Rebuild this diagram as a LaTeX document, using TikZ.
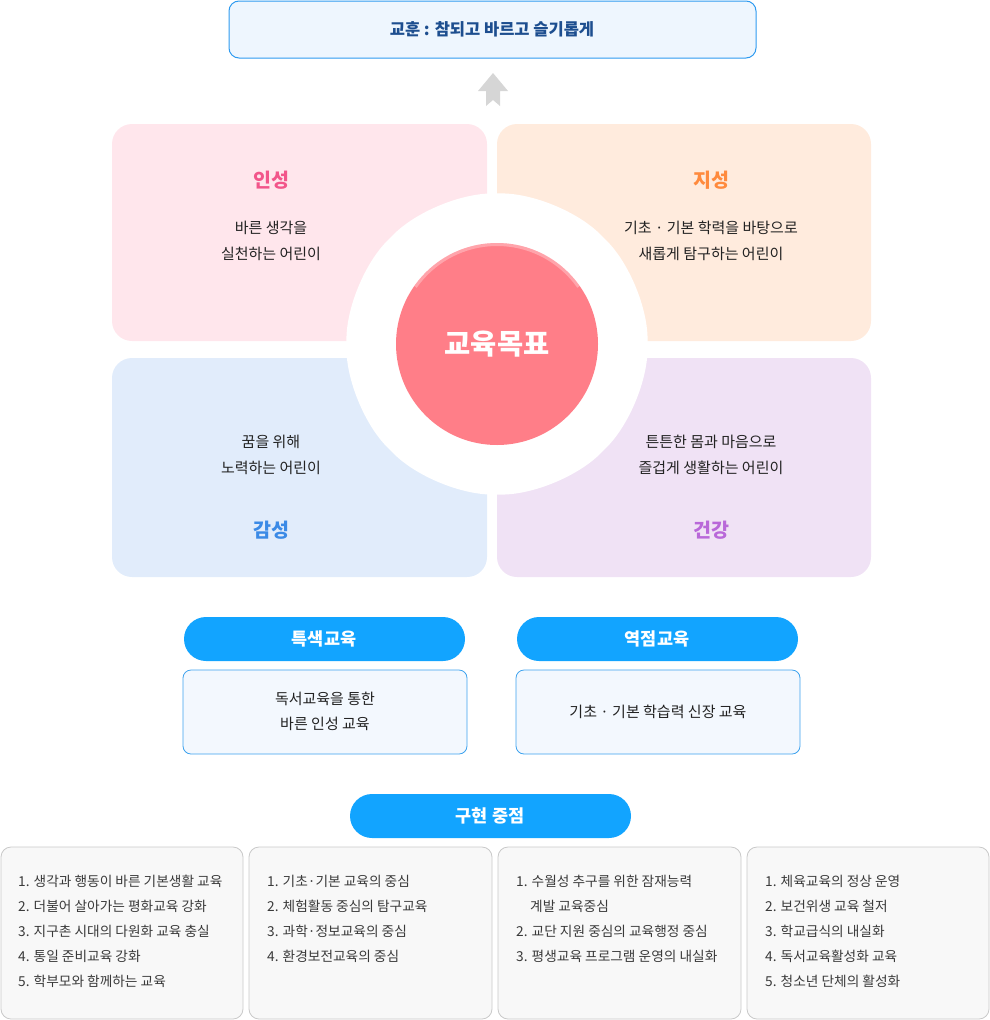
\documentclass[tikz,border=0pt]{standalone}
\usepackage{fontspec}
\setmainfont{Noto Sans CJK KR}
\definecolor{pinkbg}{HTML}{FFE6EC}
\definecolor{orangebg}{HTML}{FFEBDD}
\definecolor{bluebg}{HTML}{E1ECFB}
\definecolor{purplebg}{HTML}{F0E2F5}
\definecolor{pinkt}{HTML}{F2558A}
\definecolor{oranget}{HTML}{FF8A3D}
\definecolor{bluet}{HTML}{3B8AE6}
\definecolor{purplet}{HTML}{B968D9}
\definecolor{circ}{HTML}{FF7E88}
\definecolor{bannerborder}{HTML}{2E9BF0}
\definecolor{bannerfill}{HTML}{EEF6FE}
\definecolor{bannertext}{HTML}{1D4E8F}
\definecolor{pill}{HTML}{12A4FF}
\definecolor{boxborder}{HTML}{3DA2EE}
\definecolor{boxfill}{HTML}{F3F8FE}
\definecolor{listfill}{HTML}{F8F8F8}
\definecolor{listborder}{HTML}{C9C9C9}
\definecolor{bodytext}{HTML}{222222}
\definecolor{listtext}{HTML}{3A3A3A}
\definecolor{arrowgray}{HTML}{D6D6D6}
\newcommand\myfs[2]{\fontsize{#1}{#2}\selectfont}
\tikzset{
  quad/.style={rounded corners=20pt},
  qtitle/.style={font=\myfs{19.5}{22}\bfseries, inner sep=0pt},
  qbody/.style={font=\myfs{15}{26}, text=bodytext, align=center, inner sep=0pt},
  pillbox/.style={fill=pill, rounded corners=22pt},
  pilltext/.style={font=\myfs{17.5}{20}\bfseries, text=white, inner sep=0pt},
  bluebox/.style={fill=boxfill, draw=boxborder, line width=0.8pt, rounded corners=8pt},
  listbox/.style={fill=listfill, draw=listborder, line width=0.8pt, rounded corners=10pt},
  listline/.style={font=\myfs{13.7}{16}, text=listtext, anchor=west, inner sep=0pt},
}
\begin{document}
\begin{tikzpicture}[x=1pt,y=-1pt]
\useasboundingbox (0,0) rectangle (990,1020);
% banner
\draw[fill=bannerfill, draw=bannerborder, line width=1pt, rounded corners=10pt] (229,1) rectangle (756,58);
\node[font=\myfs{16.5}{18}\bfseries, text=bannertext, inner sep=0pt] (motto) at (492,29) {교훈 : 참되고 바르고 슬기롭게};
% arrow
\fill[arrowgray] (493,73) -- (508,91) -- (500,91) -- (500,106) -- (493,100) -- (486,106) -- (486,91) -- (478,91) -- cycle;
% quadrants
\fill[pinkbg, quad] (112,124) rectangle (487,341);
\fill[orangebg, quad] (497,124) rectangle (871,341);
\fill[bluebg, quad] (112,358) rectangle (487,577);
\fill[purplebg, quad] (497,358) rectangle (871,577);
% white blob
\fill[white, rounded corners=58pt]
  (497,344) +(22.5:163) -- +(67.5:163) -- +(112.5:163) -- +(157.5:163) -- +(202.5:163) -- +(247.5:163) -- +(292.5:163) -- +(337.5:163) -- cycle;
% center circle
\fill[circ] (497,344) circle (101);
\draw[white, opacity=0.3, line width=3pt] (497,344) ++(-35:99.5) arc[start angle=-35, end angle=-145, radius=99.5];
\node[font=\myfs{28.5}{30}\bfseries, text=white, inner sep=0pt] (goal) at (497,344) {교육목표};
% quadrant texts
\node[qtitle, text=pinkt] (t1) at (271,180) {인성};
\node[qbody] (b1) at (271,241) {바른 생각을\\실천하는 어린이};
\node[qtitle, text=oranget] (t2) at (711,180) {지성};
\node[qbody] (b2) at (711,241) {기초 · 기본 학력을 바탕으로\\새롭게 탐구하는 어린이};
\node[qbody] (b3) at (271,455) {꿈을 위해\\노력하는 어린이};
\node[qtitle, text=bluet] (t3) at (271,530) {감성};
\node[qbody] (b4) at (711,455) {튼튼한 몸과 마음으로\\즐겁게 생활하는 어린이};
\node[qtitle, text=purplet] (t4) at (711,530) {건강};
% pills and boxes
\fill[pillbox] (184,617) rectangle (465,661);
\node[pilltext] (p1) at (324,639) {특색교육};
\fill[pillbox] (517,617) rectangle (798,661);
\node[pilltext] (p2) at (657,639) {역점교육};
\draw[bluebox] (183,670) rectangle (467,754);
\node[qbody, font=\myfs{15}{25}] (bx1) at (325,711.5) {독서교육을 통한\\바른 인성 교육};
\draw[bluebox] (516,670) rectangle (800,754);
\node[qbody] (bx2) at (658,712) {기초 · 기본 학습력 신장 교육};
\fill[pillbox] (350,794) rectangle (631,838);
\node[pilltext] (p3) at (490,816) {구현 중점};
% list boxes
\draw[listbox] (1,847) rectangle (243,1019);
\draw[listbox] (249,847) rectangle (492,1019);
\draw[listbox] (498,847) rectangle (741,1019);
\draw[listbox] (747,847) rectangle (989,1019);
\foreach \t [count=\i] in {1. 생각과 행동이 바른 기본생활 교육, 2. 더불어 살아가는 평화교육 강화, 3. 지구촌 시대의 다원화 교육 충실, 4. 통일 준비교육 강화, 5. 학부모와 함께하는 교육}
  \node[listline] (la\i) at (18,856+25*\i) {\t};
\foreach \t [count=\i] in {1. 기초·기본 교육의 중심, 2. 체험활동 중심의 탐구교육, 3. 과학·정보교육의 중심, 4. 환경보전교육의 중심}
  \node[listline] (lb\i) at (267,856+25*\i) {\t};
\node[listline] (lc1) at (516,881) {1. 수월성 추구를 위한 잠재능력};
\node[listline] (lc2) at (530,906) {계발 교육중심};
\node[listline] (lc3) at (516,931) {2. 교단 지원 중심의 교육행정 중심};
\node[listline] (lc4) at (516,956) {3. 평생교육 프로그램 운영의 내실화};
\foreach \t [count=\i] in {1. 체육교육의 정상 운영, 2. 보건위생 교육 철저, 3. 학교급식의 내실화, 4. 독서교육활성화 교육, 5. 청소년 단체의 활성화}
  \node[listline] (ld\i) at (765,856+25*\i) {\t};
\end{tikzpicture}
\end{document}
